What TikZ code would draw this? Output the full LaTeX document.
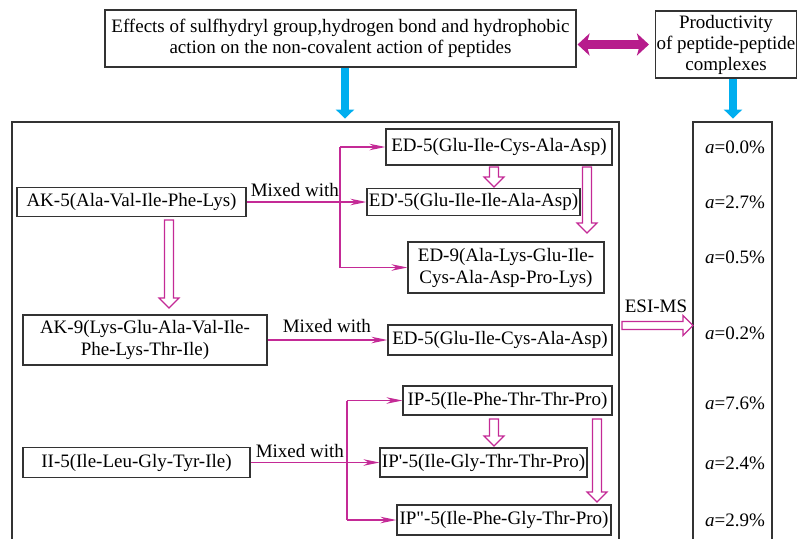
\documentclass[tikz,border=0pt]{standalone}
\usepackage{fontspec}
\setmainfont{Liberation Serif}
\usetikzlibrary{arrows.meta,calc}
\definecolor{mag}{HTML}{C42A96}
\definecolor{magdark}{HTML}{B71C8C}
\definecolor{sky}{HTML}{00AEEF}
\definecolor{frame}{HTML}{333333}
\newcommand{\hdownarrow}[3]{%
  \draw[hollow] ({#1-4.5},#2) -- ({#1+4.5},#2) -- ({#1+4.5},{#3-10}) -- ({#1+10},{#3-10}) -- (#1,#3) -- ({#1-10},{#3-10}) -- ({#1-4.5},{#3-10}) -- cycle;}
\begin{document}
\begin{tikzpicture}[x=1pt,y=-1pt,
 every node/.style={font=\fontsize{19}{22}\selectfont},
 box/.style={draw=frame, line width=1.1pt, inner sep=0pt, align=center, fill=white},
 conn/.style={draw=mag, line width=1.2pt, -{Stealth[length=16pt,width=6.5pt,inset=5pt]}},
 link/.style={draw=mag, line width=1.2pt},
 hollow/.style={draw=mag, line width=1.2pt, fill=white, line join=miter},
 bluearr/.style={draw=sky, line width=8pt, -{Triangle[width=18pt,length=9pt]}},
 framestyle/.style={draw=frame, line width=1.1pt},
 lbl/.style={inner sep=0pt},
]
\useasboundingbox (0,0) rectangle (799,538);

% frames
\draw[framestyle] (12,540) -- (12,122) -- (619,122) -- (619,540);
\draw[framestyle] (693,540) -- (693,122) -- (772,122) -- (772,540);

% top boxes
\node[box, minimum width=471pt, minimum height=57pt, font=\fontsize{19}{20.5}\selectfont] (top) at (340.5,38.5)
  {Effects of sulfhydryl group,hydrogen bond and hydrophobic\\action on the non-covalent action of peptides};
\node[box, minimum width=141pt, minimum height=67pt, font=\fontsize{19}{21}\selectfont] (prod) at (726,44.5)
  {Productivity\\of peptide-peptide\\complexes};

\draw[draw=magdark, line width=9pt, {Stealth[width=22pt,length=12pt,inset=3pt]}-{Stealth[width=22pt,length=12pt,inset=3pt]}]
  ([xshift=1pt]top.east |- prod.west) -- ([xshift=-6pt]prod.west);

\draw[bluearr] ([xshift=4.5pt]top.south) -- ++(0,51);
\draw[bluearr] ([xshift=7pt]prod.south) -- ++(0,40);

% peptide boxes
\node[box, minimum width=229pt, minimum height=29pt] (ak5) at (131.5,202) {AK-5(Ala-Val-Ile-Phe-Lys)};
\node[box, minimum width=226pt, minimum height=36pt] (ed5a) at (499,147) {ED-5(Glu-Ile-Cys-Ala-Asp)};
\node[box, minimum width=213pt, minimum height=27pt] (ed5p) at (473.5,202) {ED\textquotesingle-5(Glu-Ile-Ile-Ala-Asp)};
\node[box, minimum width=196pt, minimum height=51pt] (ed9) at (506,267.5) {ED-9(Ala-Lys-Glu-Ile-\\Cys-Ala-Asp-Pro-Lys)};
\node[box, minimum width=244pt, minimum height=50pt] (ak9) at (145,340) {AK-9(Lys-Glu-Ala-Val-Ile-\\Phe-Lys-Thr-Ile)};
\node[box, minimum width=224pt, minimum height=30pt] (ed5b) at (500,340) {ED-5(Glu-Ile-Cys-Ala-Asp)};
\node[box, minimum width=227pt, minimum height=30pt] (ii5) at (136.5,462.5) {II-5(Ile-Leu-Gly-Tyr-Ile)};
\node[box, minimum width=209pt, minimum height=29pt] (ip5) at (507.5,400.5) {IP-5(Ile-Phe-Thr-Thr-Pro)};
\node[box, minimum width=207pt, minimum height=29pt] (ip5p) at (483.5,462.5) {IP\textquotesingle-5(Ile-Gly-Thr-Thr-Pro)};
\node[box, minimum width=214pt, minimum height=30pt] (ip5pp) at (504,520) {IP\textquotedbl-5(Ile-Phe-Gly-Thr-Pro)};

% connectors group 1
\coordinate (b1) at (340,202);
\draw[conn] (ak5.east) -- (ed5p.west);
\draw[link] (b1 |- ed5a.west) -- (b1 |- ed9.west);
\draw[conn] (b1 |- ed5a.west) -- (ed5a.west);
\draw[conn] (b1 |- ed9.west) -- (ed9.west);
\node[lbl, anchor=base west] (mw1) at ([xshift=4pt,yshift=6pt]ak5.east) {Mixed with};

% group 2
\draw[conn] (ak9.east) -- (ed5b.west);
\node[lbl, anchor=base west] (mw2) at ([xshift=15pt,yshift=8pt]ak9.east) {Mixed with};

% group 3
\coordinate (b3) at (347,462.5);
\draw[conn] (ii5.east) -- (ip5p.west);
\draw[link] (b3 |- ip5.west) -- (b3 |- ip5pp.west);
\draw[conn] (b3 |- ip5.west) -- (ip5.west);
\draw[conn] (b3 |- ip5pp.west) -- (ip5pp.west);
\node[lbl, anchor=base west] (mw3) at ([xshift=5pt,yshift=5pt]ii5.east) {Mixed with};

% hollow arrows
\hdownarrow{169}{220}{308}
\hdownarrow{494}{167}{187}
\hdownarrow{587}{167}{233}
\hdownarrow{494}{419}{446}
\hdownarrow{597}{419}{502}

% ESI-MS arrow
\draw[hollow] (622,321.5) -- (683,321.5) -- (683,315.5) -- (693,325.5) -- (683,335.5) -- (683,329.5) -- (622,329.5) -- cycle;
\node[lbl, anchor=base] (esi) at (656,312) {ESI-MS};

% percentages
\node[lbl] (p1) at (735,147) {\textit{a}=0.0\%};
\node[lbl] (p2) at (735,202) {\textit{a}=2.7\%};
\node[lbl] (p3) at (735,257) {\textit{a}=0.5\%};
\node[lbl] (p4) at (735,333) {\textit{a}=0.2\%};
\node[lbl] (p5) at (735,403) {\textit{a}=7.6\%};
\node[lbl] (p6) at (735,463) {\textit{a}=2.4\%};
\node[lbl] (p7) at (735,520) {\textit{a}=2.9\%};
\end{tikzpicture}
\end{document}
